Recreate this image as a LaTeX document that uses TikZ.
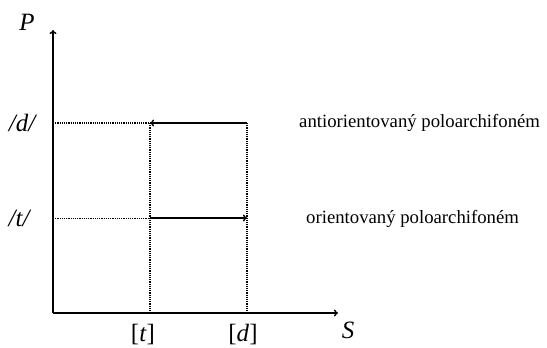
\documentclass[tikz,border=0pt]{standalone}
\usepackage{fontspec}
\setmainfont{Liberation Serif}
\usetikzlibrary{arrows.meta}
\begin{document}
\begin{tikzpicture}[x=1bp,y=-1bp,
  axis/.style={line width=1.4bp,-{To[length=4bp,width=7bp]}},
  move/.style={line width=1.4bp,-{To[length=4bp,width=7bp]}},
  guide/.style={line width=1.2bp,dash pattern=on 1.2bp off 1bp},
  guidethin/.style={line width=0.8bp,dash pattern=on 1.2bp off 1bp},
  lab/.style={font=\fontsize{25}{28}\selectfont,inner sep=0pt},
  txt/.style={font=\fontsize{18.8}{22}\selectfont,inner sep=0pt,anchor=west}]
\useasboundingbox (0,0) rectangle (547,347);
\coordinate (O) at (53,313);
\coordinate (Ptop) at (53,30);
\coordinate (Send) at (338,313);
\coordinate (Yd) at (53,123);
\coordinate (Yt) at (53,218);
\coordinate (Td) at (150,123);
\coordinate (Tt) at (150,218);
\coordinate (Tx) at (150,313);
\coordinate (Dd) at (247,123);
\coordinate (Dt) at (247,218);
\coordinate (Dx) at (247,313);
\draw[axis] (O) -- (Ptop);
\draw[axis] (O) -- (Send);
\draw[guide] (Yd) -- (Td);
\draw[guidethin] (Yt) -- (Tt);
\draw[guide] (Td) -- (Tx);
\draw[guide] (Dd) -- (Dx);
\draw[move] (Dd) -- (Td);
\draw[move] (Tt) -- (Dt);
\node[lab] (P) at (27,22) {\textit{P}};
\node[lab] (S) at (348,330) {\textit{S}};
\node[lab] (ld) at (23,123) {\textit{/d/}};
\node[lab] (lt) at (20,218) {\textit{/t/}};
\node[lab] (bt) at (143,335) {[\textit{t}]};
\node[lab] (bd) at (243,335) {[\textit{d}]};
\node[txt] (anti) at (299,123) {antiorientovaný poloarchifoném};
\node[txt] (ori) at (306,219) {orientovaný poloarchifoném};
\end{tikzpicture}
\end{document}
